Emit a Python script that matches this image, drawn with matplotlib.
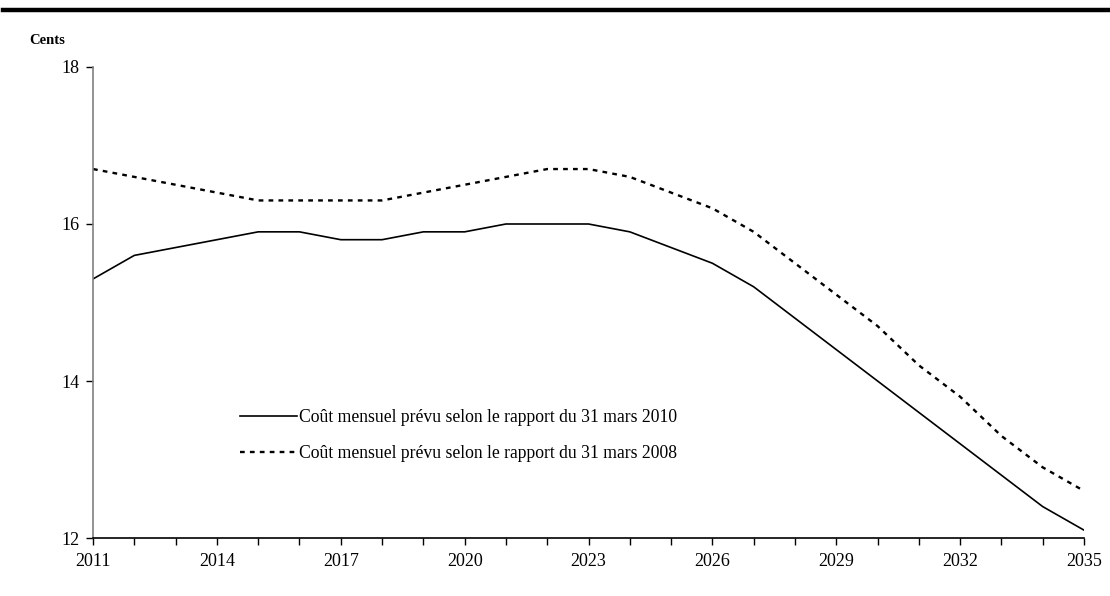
#%%
# Coût mensuel prévu - rapport 2010 vs rapport 2008
import numpy as np
import matplotlib.pyplot as plt
from matplotlib.lines import Line2D

#%%
# data
years = list(range(2011, 2036))
cout_2010 = [15.3, 15.6, 15.7, 15.8, 15.9, 15.9, 15.8, 15.8, 15.9, 15.9,
             16.0, 16.0, 16.0, 15.9, 15.7, 15.5, 15.2, 14.8, 14.4, 14.0,
             13.6, 13.2, 12.8, 12.4, 12.1]
cout_2008 = [16.7, 16.6, 16.5, 16.4, 16.3, 16.3, 16.3, 16.3, 16.4, 16.5,
             16.6, 16.7, 16.7, 16.6, 16.4, 16.2, 15.9, 15.5, 15.1, 14.7,
             14.2, 13.8, 13.3, 12.9, 12.6]
label_2010 = "Coût mensuel prévu selon le rapport du 31 mars 2010"
label_2008 = "Coût mensuel prévu selon le rapport du 31 mars 2008"
xtick_labels = [2011, 2014, 2017, 2020, 2023, 2026, 2029, 2032, 2035]
ytick_vals = [12, 14, 16, 18]

#%%
plt.rcParams['font.family'] = ['Liberation Serif', 'DejaVu Serif']

fig = plt.figure(figsize=(11.1, 5.96), dpi=100)
ax = fig.add_axes([0.0838, 0.0973, 0.8928, 0.7903])

ax.plot(years, cout_2010, color="black", lw=1.2, label=label_2010)
ax.plot(years, cout_2008, color="black", lw=1.7, linestyle=(0, (2, 2.2)),
        label=label_2008)

ax.set_xlim(2011, 2035)
ax.set_ylim(12, 18)
ax.set_xticks(years)
ax.set_xticklabels([str(y) if y in xtick_labels else "" for y in years])
ax.set_yticks(ytick_vals)
ax.tick_params(axis='both', direction='out', length=5, width=1,
               labelsize=13, colors='black')
ax.tick_params(axis='x', pad=6)
ax.tick_params(axis='y', pad=5)

ax.spines['top'].set_visible(False)
ax.spines['right'].set_visible(False)
ax.spines['left'].set_color('#808080')
ax.spines['left'].set_linewidth(1.2)
ax.spines['bottom'].set_linewidth(1.2)

leg = ax.legend(loc='upper left', bbox_to_anchor=(0.132, 0.308), frameon=False,
                fontsize=12.7, handlelength=3.24, handletextpad=0.1,
                labelspacing=1.07)

#%%
# "Cents" label and thick rule at the top
fig.text(0.026, 0.932, "Cents", fontsize=10.5, fontweight='bold', va='center')
fig.add_artist(Line2D([0.003, 1.0], [1 - 10 / 596, 1 - 10 / 596],
                      color='black', lw=3.2, transform=fig.transFigure))

fig.savefig("out.png", dpi=100)
